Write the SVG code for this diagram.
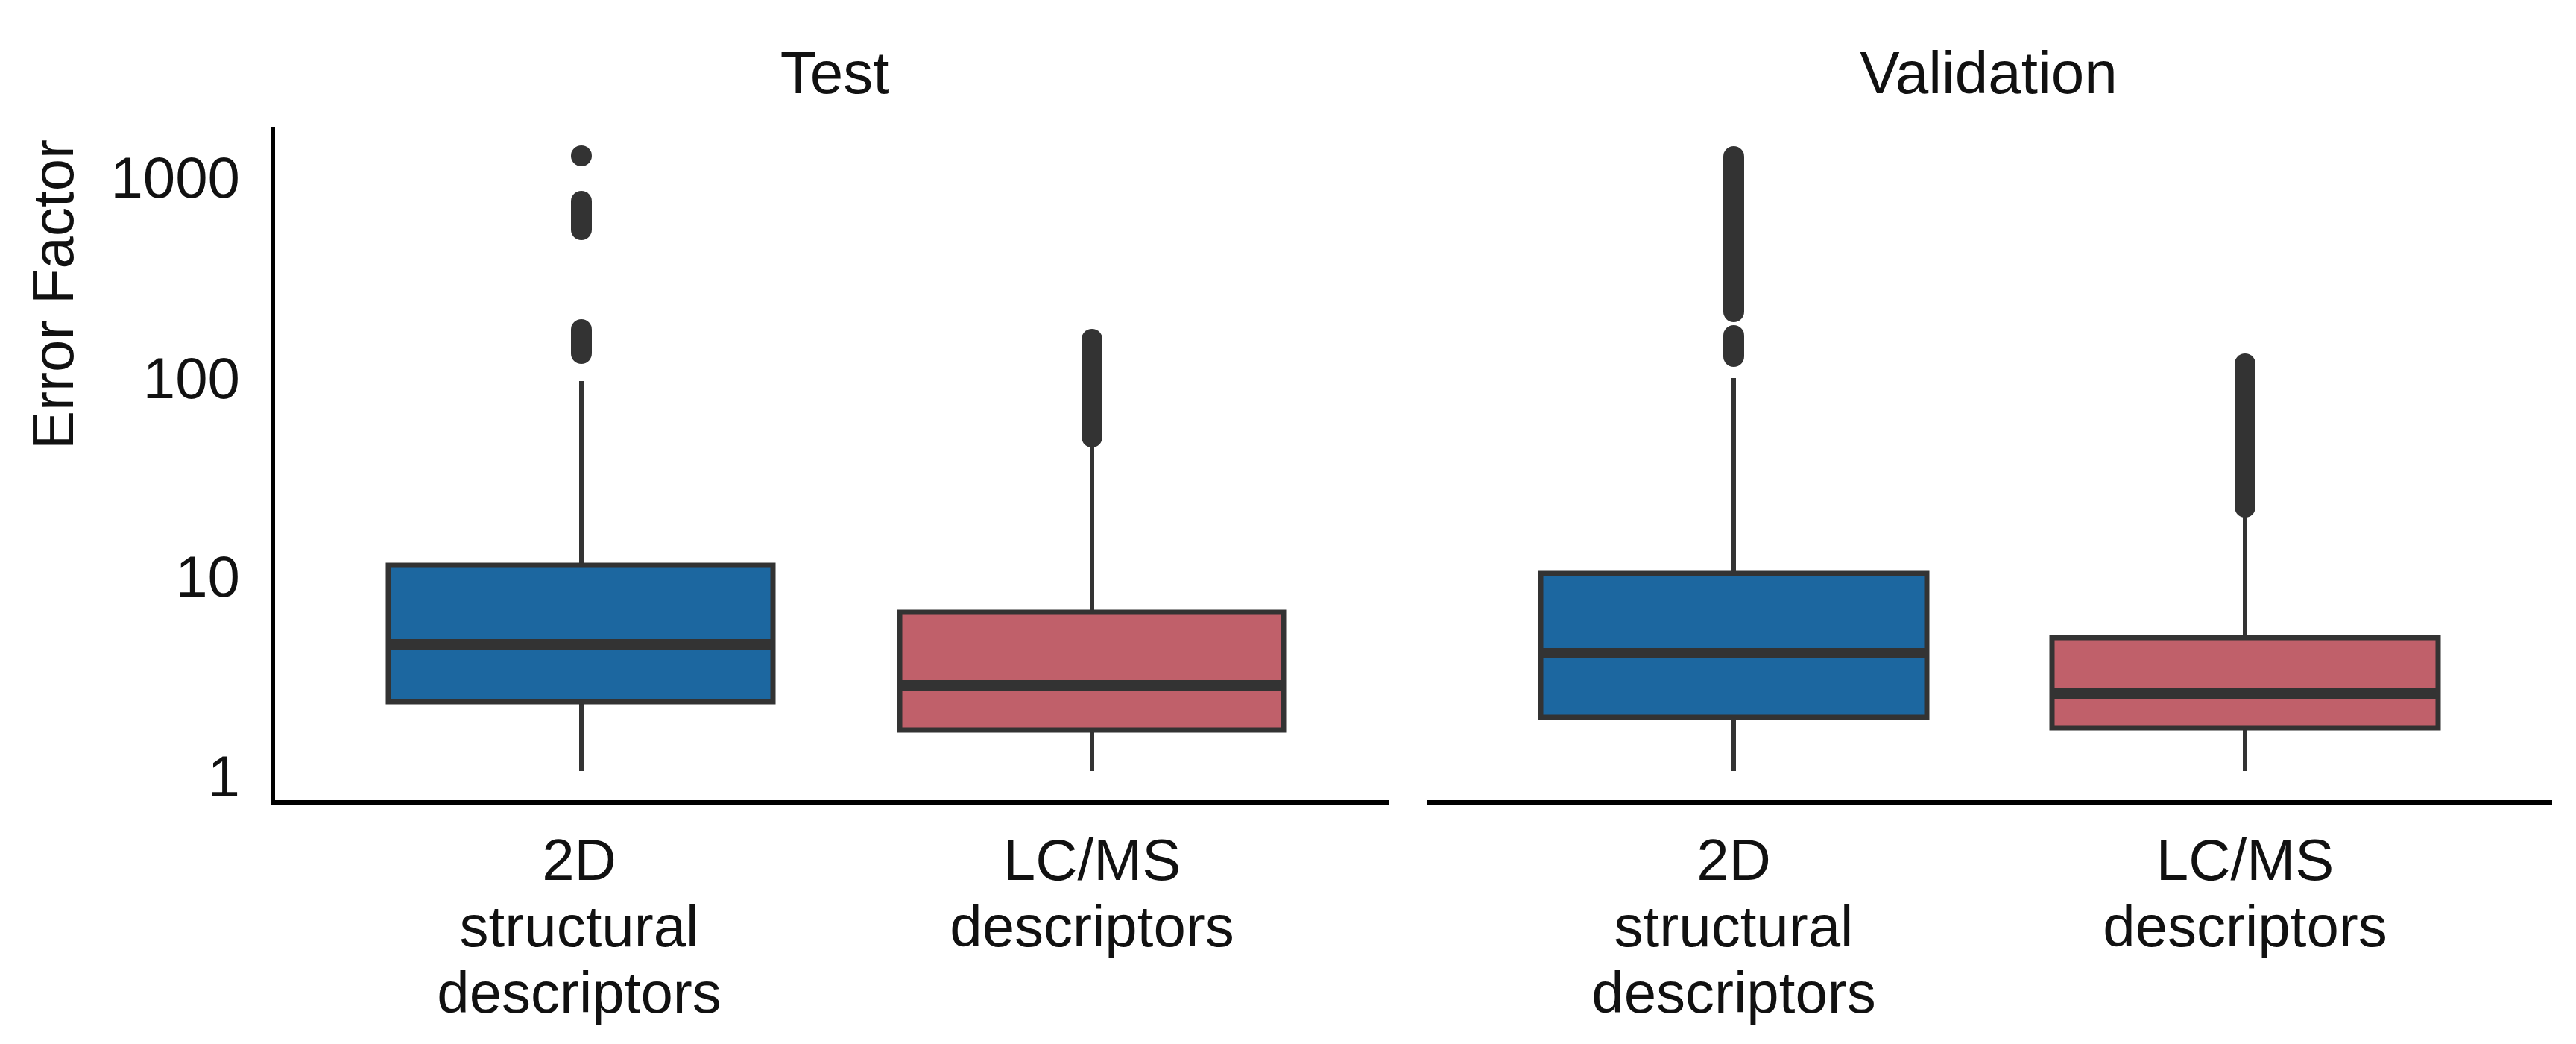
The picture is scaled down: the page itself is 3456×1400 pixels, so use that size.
<svg xmlns="http://www.w3.org/2000/svg" width="3456" height="1400" viewBox="0 0 3456 1400">
<style>
text{font-family:"Liberation Sans Narrow","Liberation Sans",Arial,sans-serif;fill:#111;font-size:78px}
.t{font-size:80px}
.ax{stroke:#000;stroke-width:6;fill:none}
.w{stroke:#333;stroke-width:6}
.bb{fill:#1c67a0;stroke:#333;stroke-width:7}
.br{fill:#c0606a;stroke:#333;stroke-width:7}
.med{stroke:#333;stroke-width:14}
.o{fill:#333;stroke:#333;stroke-width:0}
.ol{stroke:#333;stroke-width:28;stroke-linecap:round}
</style>
<rect width="3456" height="1400" fill="#fff"/>
<g id="axes">
<path class="ax" d="M366 170 V1076 H1864"/>
<path class="ax" d="M1915 1076 H3424"/>
</g>
<g id="yaxis-labels" text-anchor="end">
<text x="322" y="265">1000</text>
<text x="322" y="534">100</text>
<text x="322" y="800">10</text>
<text x="322" y="1068">1</text>
<text transform="translate(98,395) rotate(-90)" text-anchor="middle">Error Factor</text>
</g>
<g id="titles" text-anchor="middle">
<text class="t" x="1120" y="125">Test</text>
<text class="t" x="2668" y="125">Validation</text>
</g>
<g id="test-2d">
<line class="w" x1="780" y1="511" x2="780" y2="1034"/>
<rect class="bb" x="521" y="758" width="516" height="183"/>
<line class="med" x1="521" y1="864" x2="1037" y2="864"/>
<circle class="o" cx="780" cy="209" r="14"/>
<line class="ol" x1="780" y1="270" x2="780" y2="308"/>
<line class="ol" x1="780" y1="442" x2="780" y2="474"/>
</g>
<g id="test-lcms">
<line class="w" x1="1465" y1="588" x2="1465" y2="1034"/>
<rect class="br" x="1207" y="821" width="515" height="158"/>
<line class="med" x1="1207" y1="919" x2="1722" y2="919"/>
<line class="ol" x1="1465" y1="455" x2="1465" y2="586"/>
</g>
<g id="val-2d">
<line class="w" x1="2326" y1="507" x2="2326" y2="1034"/>
<rect class="bb" x="2067" y="769" width="518" height="193"/>
<line class="med" x1="2067" y1="876" x2="2585" y2="876"/>
<line class="ol" x1="2326" y1="210" x2="2326" y2="418"/>
<line class="ol" x1="2326" y1="450" x2="2326" y2="478"/>
</g>
<g id="val-lcms">
<line class="w" x1="3012" y1="691" x2="3012" y2="1034"/>
<rect class="br" x="2753" y="855" width="518" height="121"/>
<line class="med" x1="2753" y1="930" x2="3271" y2="930"/>
<line class="ol" x1="3012" y1="488" x2="3012" y2="680"/>
</g>
<g id="xlabels" text-anchor="middle">
<text x="777" y="1180">2D</text>
<text x="777" y="1269">structural</text>
<text x="777" y="1358">descriptors</text>
<text x="1465" y="1180">LC/MS</text>
<text x="1465" y="1269">descriptors</text>
<text x="2326" y="1180">2D</text>
<text x="2326" y="1269">structural</text>
<text x="2326" y="1358">descriptors</text>
<text x="3012" y="1180">LC/MS</text>
<text x="3012" y="1269">descriptors</text>
</g>
</svg>
